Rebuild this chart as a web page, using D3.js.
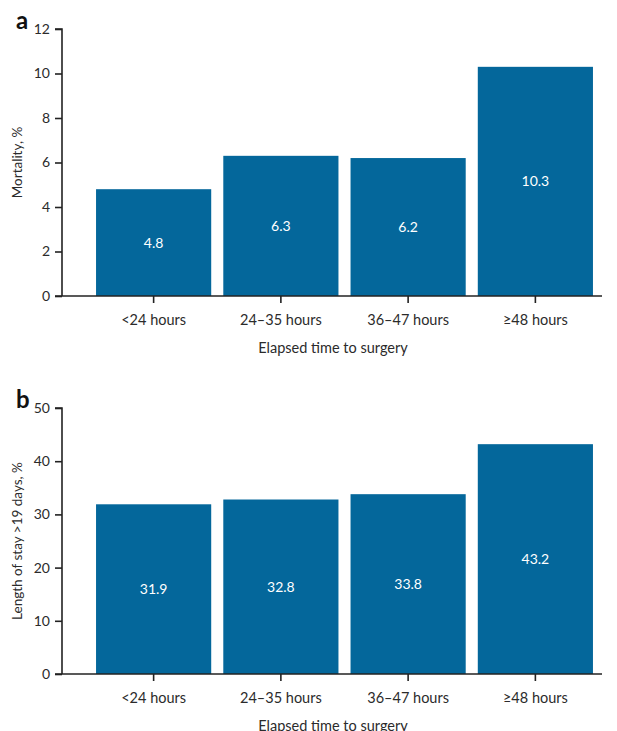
<!DOCTYPE html>
<html>
<head>
<meta charset="utf-8">
<script src="https://cdn.jsdelivr.net/npm/d3@7"></script>
<style>
  body { margin: 0; background: #fff; }
  svg { display: block; font-family: Lato, "Open Sans", sans-serif; }
</style>
</head>
<body>
<script>
// data
const categories = ["<24 hours", "24\u201335 hours", "36\u201347 hours", "\u226548 hours"];
const mortality = [4.8, 6.3, 6.2, 10.3];
const longStay = [31.9, 32.8, 33.8, 43.2];
const mortalityTicks = [0, 2, 4, 6, 8, 10, 12];
const longStayTicks = [0, 10, 20, 30, 40, 50];

const width = 617, height = 731;
const barColor = "#04679b";
const textColor = "#2b2b2b";

const svg = d3.select("body").append("svg")
  .attr("width", width)
  .attr("height", height);

// shared x scale
const x = d3.scaleBand()
  .domain(categories)
  .range([90, 599])
  .paddingInner(0.095)
  .paddingOuter(0.0475);

function panel(letter, values, ticks, yTitle, top, bottom) {
  const g = svg.append("g");
  const y = d3.scaleLinear()
    .domain([0, d3.max(ticks)])
    .range([bottom, top]);

  // bars
  g.selectAll("rect.bar")
    .data(values)
    .join("rect")
    .attr("class", "bar")
    .attr("x", (d, i) => x(categories[i]))
    .attr("y", d => y(d))
    .attr("width", x.bandwidth())
    .attr("height", d => y(0) - y(d))
    .attr("fill", barColor);

  // value labels in the middle of each bar
  g.selectAll("text.val")
    .data(values)
    .join("text")
    .attr("class", "val")
    .attr("x", (d, i) => x(categories[i]) + x.bandwidth() / 2)
    .attr("y", d => (y(d) + y(0)) / 2)
    .attr("dy", "0.35em")
    .attr("text-anchor", "middle")
    .attr("fill", "#fff")
    .style("font-size", "14px")
    .text(d => d.toFixed(1));

  // y axis
  const yAxis = g.append("g")
    .attr("transform", "translate(62,0)")
    .call(d3.axisLeft(y).tickValues(ticks).tickSize(7).tickPadding(5));
  yAxis.select(".domain").attr("stroke", "#222").attr("stroke-width", 1.6)
    .attr("d", `M-7,${y(d3.max(ticks))}H0V${y(0)}`);
  yAxis.selectAll(".tick line").attr("stroke", "#222").attr("stroke-width", 1.6);
  yAxis.selectAll(".tick text").attr("fill", textColor).style("font-size", "14px")
    .style("font-family", "Lato, 'Open Sans', sans-serif");

  // x axis
  const xAxis = g.append("g")
    .attr("transform", `translate(0,${y(0)})`)
    .call(d3.axisBottom(x).tickSize(7).tickPadding(12));
  xAxis.select(".domain").attr("stroke", "#222").attr("stroke-width", 1.6)
    .attr("d", "M55,0H602");
  xAxis.selectAll(".tick line").attr("stroke", "#222").attr("stroke-width", 1.6);
  xAxis.selectAll(".tick text").attr("fill", textColor).style("font-size", "14.5px")
    .style("font-family", "Lato, 'Open Sans', sans-serif");

  // x title
  g.append("text")
    .attr("x", 333)
    .attr("y", y(0) + 57)
    .attr("text-anchor", "middle")
    .attr("fill", textColor)
    .style("font-size", "14.5px")
    .text("Elapsed time to surgery");

  // y title
  g.append("text")
    .attr("transform", `translate(22,${(top + bottom) / 2}) rotate(-90)`)
    .attr("text-anchor", "middle")
    .attr("fill", textColor)
    .style("font-size", "13.5px")
    .text(yTitle);

  // panel letter
  g.append("text")
    .attr("x", 16)
    .attr("y", top - 0)
    .attr("fill", "#111")
    .style("font-size", "24px")
    .style("font-weight", "bold")
    .text(letter);
}

panel("a", mortality, mortalityTicks, "Mortality, %", 29, 296);
panel("b", longStay, longStayTicks, "Length of stay >19 days, %", 408, 674);
</script>
</body>
</html>
